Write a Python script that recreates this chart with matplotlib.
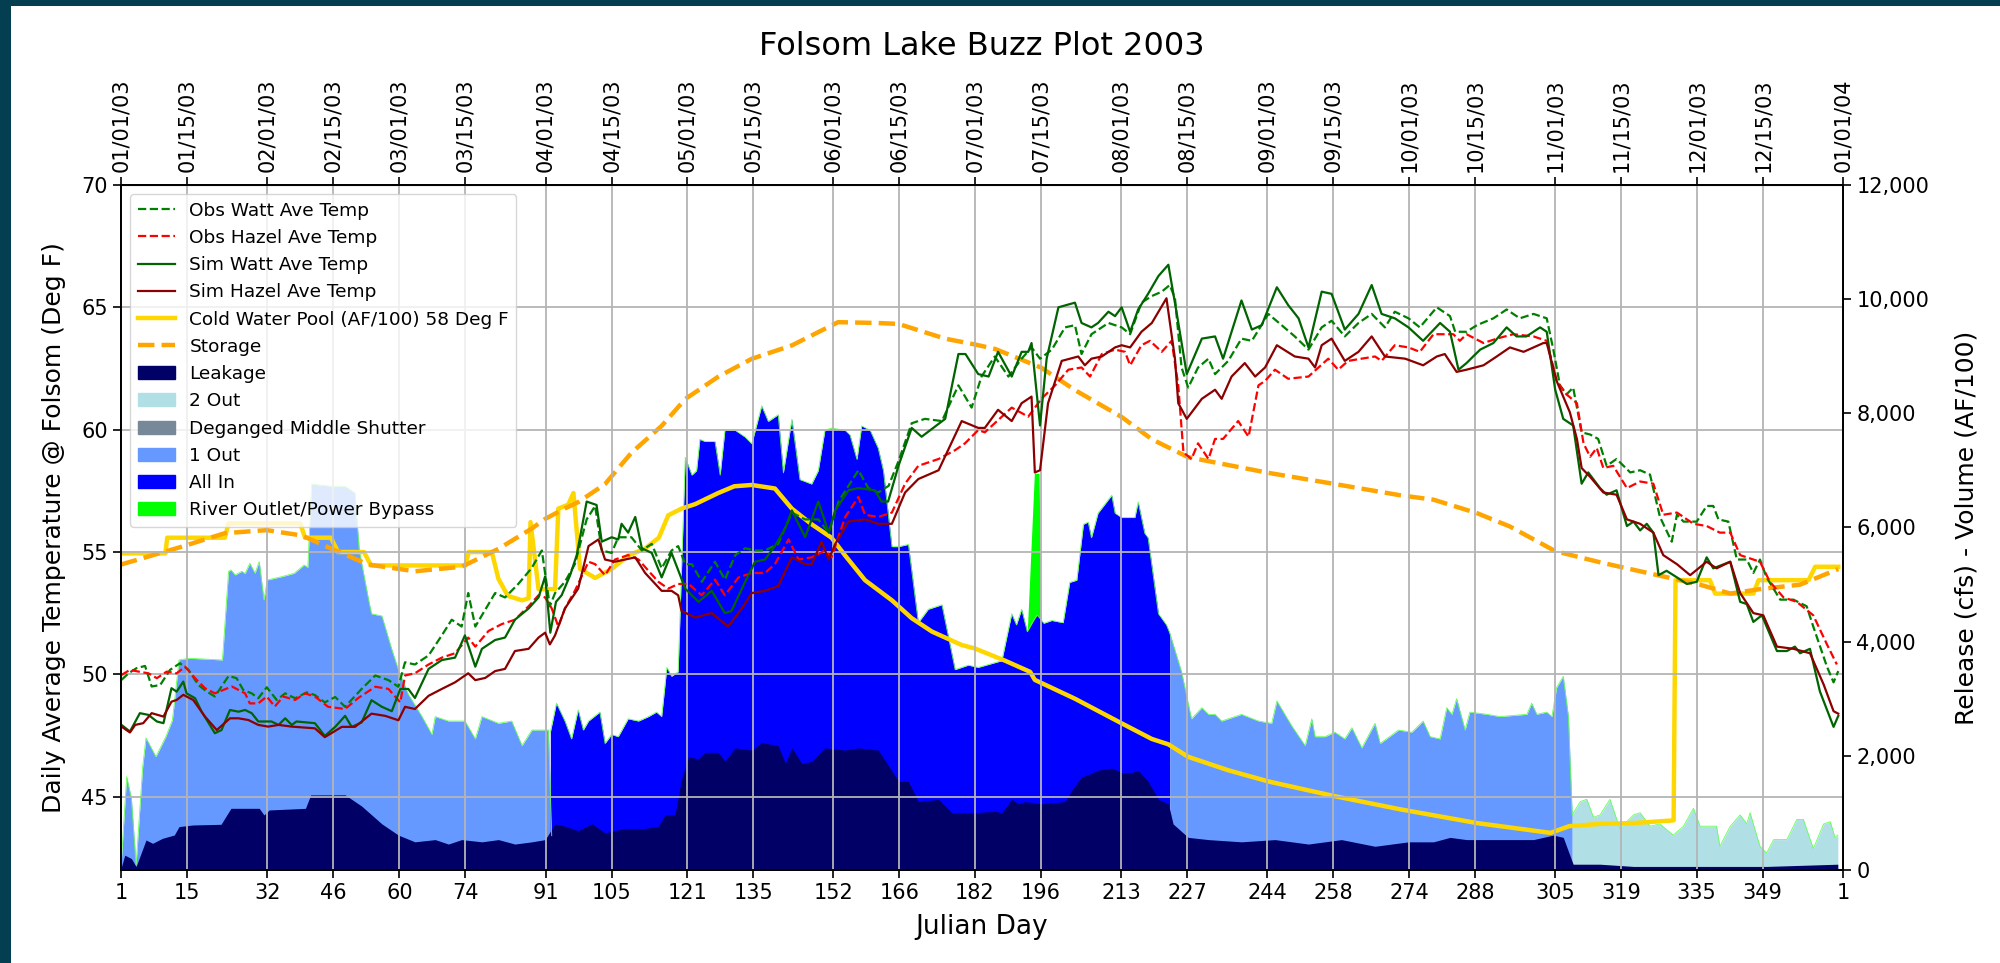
import matplotlib
matplotlib.use("Agg")
import matplotlib.pyplot as plt
from matplotlib.lines import Line2D
from matplotlib.patches import Patch, Rectangle
from matplotlib.ticker import FuncFormatter

# axis ticks (julian day) and the matching calendar dates on top
tick_days = [1, 15, 32, 46, 60, 74, 91, 105, 121, 135, 152, 166, 182, 196,
             213, 227, 244, 258, 274, 288, 305, 319, 335, 349, 366]
tick_labels = [str(d) for d in tick_days[:-1]] + ["1"]
date_labels = ["01/01/03", "01/15/03", "02/01/03", "02/15/03", "03/01/03",
               "03/15/03", "04/01/03", "04/15/03", "05/01/03", "05/15/03",
               "06/01/03", "06/15/03", "07/01/03", "07/15/03", "08/01/03",
               "08/15/03", "09/01/03", "09/15/03", "10/01/03", "10/15/03",
               "11/01/03", "11/15/03", "12/01/03", "12/15/03", "01/01/04"]

# temperatures (deg F), (julian day, value)
obs_watt = [
    (1.1, 49.77), (2.6, 50.04), (4.3, 50.25), (6.1, 50.34), (7.5, 49.5), (9.3, 49.56),
    (11.4, 50.18), (13.5, 50.45), (15.3, 50.18), (17.4, 49.56), (19.2, 49.29), (20.9, 49.09),
    (23.8, 49.93), (25.5, 49.84), (26.9, 49.36), (28.7, 49.22), (30.1, 49.02), (31.9, 49.47),
    (34.0, 48.95), (35.8, 49.22), (37.9, 49.02), (40.4, 49.26), (42.1, 49.15), (44.2, 48.85),
    (46.4, 49.07), (48.5, 48.67), (52.0, 49.4), (54.9, 49.95), (57.7, 49.76), (59.8, 49.49),
    (61.2, 50.49), (63.3, 50.4), (66.2, 50.77), (69.0, 51.59), (71.1, 52.23), (73.2, 51.95),
    (74.6, 53.32), (76.1, 51.95), (77.5, 52.41), (80.3, 53.32), (82.4, 53.14), (85.2, 53.69),
    (88.0, 54.33), (90.2, 55.06), (91.9, 52.78), (93.0, 53.32), (95.1, 53.78), (97.2, 54.5),
    (99.7, 56.33), (101.5, 56.88), (102.9, 55.06), (105.0, 54.96), (106.4, 55.6), (109.2, 55.6),
    (111.4, 55.06), (113.5, 55.33), (115.6, 54.33), (117.7, 55.06), (119.1, 55.24), (120.6, 54.5),
    (122.0, 54.5), (124.1, 53.78), (126.9, 54.6), (129.0, 53.87), (131.2, 54.87), (133.3, 55.15),
    (135.4, 55.06), (137.5, 55.06), (140.3, 55.33), (143.2, 56.61), (146.0, 56.33), (148.8, 56.33),
    (151.0, 55.79), (153.1, 57.06), (157.3, 58.34), (159.4, 57.61), (161.5, 57.43), (163.7, 57.7),
    (165.8, 58.71), (168.6, 60.26), (171.4, 60.44), (175.0, 60.35), (178.5, 61.81), (181.3, 60.9),
    (183.4, 62.17), (186.2, 62.99), (189.1, 62.17), (191.9, 62.9), (194.0, 63.36), (195.8, 62.9),
    (198.3, 63.27), (201.1, 64.18), (203.2, 64.27), (204.6, 63.09), (206.7, 63.9), (210.3, 64.36),
    (213.1, 64.18), (214.9, 63.9), (217.3, 65.19), (219.5, 65.46), (221.6, 65.64), (223.3, 65.91),
    (224.4, 65.37), (225.8, 62.54), (227.2, 61.72), (229.3, 62.54), (231.5, 62.9), (232.9, 62.27),
    (235.7, 62.81), (238.5, 63.72), (240.7, 63.63), (244.2, 64.73), (247.0, 64.27), (249.8, 63.81),
    (252.7, 63.27), (255.5, 64.18), (257.6, 64.45), (260.4, 63.81), (263.3, 64.36), (266.1, 64.73),
    (268.9, 64.18), (271.0, 64.82), (273.9, 64.55), (276.3, 64.18), (279.9, 65.0), (282.7, 64.64),
    (283.8, 64.0), (286.2, 64.0), (288.4, 64.27), (291.9, 64.55), (294.7, 64.91), (297.5, 64.55),
    (300.4, 64.73), (303.2, 64.55), (304.6, 63.27), (306.0, 61.81), (307.4, 61.44), (308.8, 61.72),
    (310.6, 59.89), (312.4, 59.8), (314.1, 59.62), (315.9, 58.52), (318.0, 58.8), (320.9, 58.25),
    (323.0, 58.34), (325.1, 58.16), (327.2, 56.43), (329.7, 55.42), (330.8, 56.52), (332.2, 56.24),
    (335.0, 56.24), (337.1, 56.88), (338.5, 56.88), (339.6, 56.33), (341.7, 56.24), (343.5, 54.69),
    (345.6, 54.69), (347.0, 54.14), (348.4, 54.69), (349.8, 53.96), (352.7, 53.05), (355.5, 53.05),
    (358.3, 52.78), (359.7, 51.95), (362.6, 50.31), (364.0, 49.67), (365.0, 50.13),
]

obs_hazel = [
    (1.1, 49.97), (2.9, 50.18), (4.7, 50.11), (6.8, 50.04), (8.6, 49.84), (10.7, 50.11),
    (12.8, 50.04), (14.6, 50.31), (16.7, 49.84), (18.8, 49.43), (20.9, 49.22), (24.5, 49.5),
    (27.3, 49.22), (28.3, 48.81), (30.1, 48.81), (31.9, 49.09), (33.6, 48.68), (35.4, 49.09),
    (37.9, 48.95), (40.0, 49.22), (42.1, 49.09), (44.9, 48.67), (48.5, 48.58), (51.3, 49.03),
    (54.9, 49.49), (57.7, 49.4), (60.2, 48.85), (61.2, 49.95), (63.3, 50.04), (66.2, 50.4),
    (69.0, 50.68), (71.8, 50.86), (74.6, 51.5), (76.1, 51.13), (78.9, 51.77), (81.7, 52.05),
    (84.5, 52.23), (87.4, 52.78), (89.5, 53.23), (90.9, 53.14), (92.3, 52.69), (93.7, 51.95),
    (95.1, 52.69), (97.2, 53.41), (100.1, 54.6), (101.5, 54.5), (103.6, 54.05), (105.7, 54.69),
    (108.5, 54.87), (110.7, 54.69), (112.8, 54.23), (114.9, 53.78), (117.0, 53.5), (119.1, 53.69),
    (121.3, 53.69), (124.1, 53.23), (126.9, 53.87), (129.0, 53.23), (131.9, 53.96), (134.7, 54.14),
    (137.5, 54.14), (139.6, 54.5), (142.5, 55.51), (144.6, 54.69), (147.4, 54.78), (150.2, 55.06),
    (151.6, 54.78), (154.5, 56.43), (157.3, 57.25), (158.7, 56.52), (161.5, 56.43), (164.4, 56.61),
    (167.2, 57.79), (170.0, 58.52), (174.3, 58.8), (177.8, 59.16), (179.9, 59.44), (182.7, 59.98),
    (184.1, 59.89), (189.8, 60.9), (193.3, 60.53), (196.1, 61.26), (199.0, 61.81), (201.8, 62.45),
    (204.6, 62.54), (206.4, 62.17), (208.9, 63.09), (211.7, 63.27), (213.8, 63.18), (214.9, 62.63),
    (217.3, 63.45), (219.1, 63.63), (221.6, 63.18), (223.7, 63.63), (225.1, 61.81), (226.2, 59.07),
    (227.9, 58.8), (229.3, 59.44), (231.5, 58.8), (232.9, 59.62), (234.6, 59.62), (237.8, 60.35),
    (240.0, 59.71), (242.1, 61.81), (243.5, 61.99), (245.6, 62.45), (248.4, 62.08), (252.7, 62.17),
    (256.9, 62.9), (259.0, 62.45), (261.1, 62.81), (264.0, 62.9), (266.8, 62.99), (268.2, 62.81),
    (271.0, 63.45), (273.9, 63.36), (276.3, 63.18), (279.2, 63.9), (283.4, 63.9), (284.8, 63.63),
    (286.2, 63.9), (289.8, 63.54), (292.6, 63.72), (296.1, 63.9), (300.4, 63.81), (303.2, 63.63),
    (305.3, 61.99), (307.4, 61.44), (309.6, 61.08), (311.0, 59.44), (312.4, 58.89), (313.8, 59.25),
    (315.2, 58.43), (317.3, 58.52), (320.2, 57.61), (323.0, 57.88), (325.8, 57.79), (327.9, 56.52),
    (330.8, 56.61), (334.3, 56.15), (337.1, 56.06), (339.9, 55.79), (342.1, 55.79), (344.2, 54.87),
    (347.0, 54.69), (348.4, 54.6), (350.5, 53.78), (353.4, 53.14), (356.2, 52.96), (359.7, 52.41),
    (362.6, 51.22), (364.7, 50.4),
]

sim_watt = [
    (1.1, 47.93), (2.9, 47.66), (5.0, 48.41), (6.8, 48.34), (8.6, 48.07), (10.0, 48.0),
    (11.7, 49.43), (12.8, 49.29), (14.2, 49.7), (14.9, 49.22), (16.7, 49.02), (18.1, 48.47),
    (20.9, 47.59), (22.3, 47.72), (24.1, 48.54), (25.9, 48.47), (27.3, 48.54), (28.7, 48.41),
    (30.1, 48.07), (31.9, 48.07), (32.9, 48.07), (34.4, 47.93), (35.8, 48.2), (37.2, 47.93),
    (38.2, 48.07), (42.1, 48.0), (44.2, 47.48), (46.4, 47.85), (48.5, 48.3), (49.9, 47.85),
    (52.0, 48.03), (54.1, 48.94), (56.3, 48.67), (58.4, 48.49), (60.2, 49.4), (61.9, 49.4),
    (63.3, 49.03), (66.2, 50.22), (69.0, 50.58), (71.8, 50.68), (73.9, 51.59), (76.1, 50.31),
    (77.5, 51.04), (80.3, 51.4), (82.4, 51.5), (84.5, 52.23), (87.4, 52.69), (89.5, 53.14),
    (90.9, 54.0), (92.0, 51.7), (93.2, 52.96), (94.4, 53.23), (96.2, 54.05), (97.6, 54.87),
    (99.7, 57.06), (101.8, 56.92), (102.9, 55.42), (105.0, 55.6), (106.4, 55.51), (107.1, 56.15),
    (108.5, 55.79), (110.0, 56.43), (111.4, 55.15), (113.5, 54.96), (115.6, 53.96), (117.7, 54.96),
    (120.6, 53.5), (123.4, 52.96), (126.2, 53.41), (129.0, 52.5), (130.4, 52.59), (133.3, 53.78),
    (135.4, 54.6), (137.5, 54.69), (139.6, 55.24), (141.8, 55.97), (143.2, 56.7), (146.0, 55.6),
    (148.8, 57.06), (151.0, 55.79), (152.4, 56.7), (155.2, 57.52), (157.3, 57.61), (160.8, 57.52),
    (162.2, 57.06), (163.6, 57.06), (165.8, 58.52), (168.6, 60.07), (170.7, 59.71), (175.7, 60.44),
    (178.5, 63.09), (180.0, 63.09), (182.7, 62.27), (184.9, 62.17), (186.9, 63.18), (189.8, 62.17),
    (191.9, 63.18), (193.3, 63.18), (194.0, 63.54), (195.8, 60.17), (197.2, 62.9), (199.7, 65.0),
    (203.2, 65.19), (204.6, 64.36), (206.7, 64.18), (208.1, 64.36), (210.3, 64.82), (211.7, 64.64),
    (213.1, 65.0), (214.9, 64.0), (216.6, 64.91), (218.7, 65.55), (220.9, 66.28), (223.0, 66.74),
    (224.8, 64.73), (226.9, 62.27), (230.1, 63.72), (232.9, 63.81), (234.6, 62.9), (238.5, 65.28),
    (240.7, 64.09), (242.8, 64.27), (246.0, 65.82), (248.4, 65.09), (250.6, 64.55), (252.7, 63.36),
    (255.5, 65.64), (257.6, 65.55), (260.4, 64.09), (263.3, 64.73), (266.1, 65.91), (268.2, 64.73),
    (271.0, 64.55), (273.9, 64.18), (277.0, 63.63), (280.6, 64.36), (282.7, 64.0), (284.5, 62.45),
    (286.2, 62.72), (287.6, 62.99), (289.1, 63.27), (291.9, 63.54), (294.7, 64.18), (296.8, 63.81),
    (298.9, 63.81), (301.8, 64.18), (303.2, 64.0), (305.0, 61.63), (306.7, 60.44), (308.8, 60.17),
    (310.6, 57.79), (312.0, 58.25), (314.5, 57.61), (315.9, 57.34), (318.0, 57.52), (320.2, 56.06),
    (321.6, 56.24), (323.0, 55.88), (324.4, 56.15), (325.8, 55.79), (326.9, 54.05), (328.6, 54.23),
    (330.8, 53.96), (332.9, 53.69), (335.0, 53.78), (337.1, 54.78), (338.5, 54.33), (342.1, 54.6),
    (344.2, 52.96), (345.6, 52.87), (347.0, 52.14), (348.8, 52.41), (352.0, 50.95), (354.1, 50.95),
    (355.8, 51.13), (356.9, 50.86), (359.0, 51.04), (361.1, 49.3), (364.0, 47.85), (365.0, 48.3),
]

sim_hazel = [
    (1.1, 47.86), (2.9, 47.62), (4.0, 47.93), (5.7, 48.0), (7.5, 48.41), (10.0, 48.27),
    (11.7, 48.88), (12.8, 48.95), (14.2, 49.16), (16.3, 48.95), (18.8, 48.27), (21.3, 47.72),
    (24.1, 48.2), (25.9, 48.2), (28.0, 48.13), (30.1, 47.93), (32.2, 47.86), (34.4, 47.93),
    (37.2, 47.86), (42.1, 47.79), (44.2, 47.43), (47.8, 47.85), (50.6, 47.85), (54.1, 48.39),
    (57.0, 48.3), (59.8, 48.12), (61.2, 48.67), (63.3, 48.58), (66.2, 49.12), (69.0, 49.4),
    (71.8, 49.67), (74.6, 50.04), (76.1, 49.76), (78.2, 49.85), (80.3, 50.13), (82.4, 50.22),
    (84.5, 50.95), (87.4, 51.04), (89.5, 51.5), (90.9, 51.7), (91.9, 51.22), (93.0, 51.59),
    (95.1, 52.69), (97.9, 53.5), (100.1, 55.24), (102.2, 55.51), (103.6, 54.69), (105.7, 54.6),
    (107.8, 54.69), (110.0, 54.78), (112.1, 54.14), (115.6, 53.41), (117.7, 53.41), (119.1, 53.23),
    (119.8, 52.59), (122.7, 52.32), (126.2, 52.5), (129.7, 51.95), (132.6, 52.69), (134.7, 53.32),
    (137.5, 53.41), (140.3, 53.6), (143.2, 54.78), (146.0, 54.5), (147.4, 54.5), (149.5, 55.42),
    (151.0, 54.69), (152.4, 55.33), (155.2, 56.24), (158.7, 56.33), (161.5, 56.15), (164.4, 56.15),
    (167.2, 57.43), (170.0, 57.98), (174.3, 58.34), (179.2, 60.35), (182.7, 60.07), (184.1, 60.07),
    (186.9, 60.81), (189.8, 60.35), (191.9, 61.08), (194.0, 61.35), (194.7, 58.25), (195.8, 58.34),
    (197.5, 61.08), (200.4, 62.81), (203.9, 62.99), (205.3, 62.63), (206.7, 62.9), (208.9, 62.99),
    (211.7, 63.36), (213.1, 63.45), (214.9, 63.36), (217.3, 64.0), (219.5, 64.36), (222.6, 65.37),
    (224.4, 62.9), (225.1, 61.08), (226.9, 60.44), (230.1, 61.26), (232.9, 61.63), (234.3, 61.26),
    (236.4, 62.17), (239.2, 62.72), (241.4, 62.17), (243.5, 62.54), (246.0, 63.45), (249.8, 62.99),
    (252.7, 62.9), (254.1, 62.54), (255.5, 63.45), (257.6, 63.72), (260.4, 62.81), (263.3, 63.18),
    (266.1, 63.81), (268.9, 62.99), (273.2, 62.9), (277.0, 62.63), (279.9, 62.99), (281.6, 63.09),
    (284.1, 62.36), (286.2, 62.45), (289.8, 62.63), (292.6, 62.99), (295.4, 63.36), (298.3, 63.18),
    (302.5, 63.54), (303.2, 63.54), (305.3, 61.99), (308.1, 60.71), (309.6, 59.62), (310.6, 58.43),
    (312.4, 58.07), (315.2, 57.43), (318.0, 57.34), (320.2, 56.33), (323.0, 56.15), (325.8, 55.79),
    (327.9, 54.87), (330.8, 54.5), (333.6, 54.05), (337.1, 54.6), (339.2, 54.33), (342.1, 54.6),
    (344.2, 53.32), (347.0, 52.5), (349.1, 52.41), (352.0, 51.13), (355.5, 51.04), (359.0, 50.86),
    (361.9, 49.58), (364.0, 48.49), (365.0, 48.39),
]

# volumes (AF/100)
cold_pool = [
    (1.0, 5547), (10.4, 5547), (10.8, 5821), (23.0, 5821), (23.8, 6072), (39.0, 6072),
    (40.0, 5821), (45.5, 5821), (47.0, 5570), (52.5, 5570), (54.0, 5335), (74.0, 5335),
    (74.7, 5570), (79.6, 5570), (81.0, 5100), (83.0, 4802), (86.0, 4724), (87.4, 4760),
    (87.8, 6095), (89.5, 4920), (93.0, 4920), (93.7, 6330), (95.8, 6400), (96.9, 6604),
    (98.3, 5273), (101.5, 5116), (105.0, 5273), (108.5, 5508), (112.0, 5625), (115.0, 5821),
    (117.0, 6213), (119.8, 6330), (122.7, 6409), (127.6, 6604), (131.0, 6722), (134.7, 6745),
    (139.6, 6683), (143.2, 6330), (147.4, 6056), (151.6, 5821), (154.5, 5508), (158.7, 5077),
    (164.4, 4724), (168.6, 4411), (172.9, 4176), (179.2, 3941), (182.0, 3880), (188.4, 3666),
    (193.7, 3471), (194.7, 3330), (203.2, 3000), (213.1, 2569), (219.5, 2295), (223.0, 2201),
    (227.2, 1982), (235.7, 1747), (244.2, 1551), (258.3, 1292), (272.0, 1065), (288.4, 822),
    (304.0, 650), (308.0, 768), (314.5, 807), (321.6, 822), (330.1, 869), (330.5, 5077),
    (337.8, 5077), (338.9, 4842), (347.0, 4842), (348.1, 5077), (358.7, 5077), (360.1, 5312),
    (365.0, 5312),
]

storage = [
    (1.0, 5351), (13.9, 5664), (23.0, 5900), (31.9, 5954), (39.3, 5860), (45.7, 5625),
    (53.4, 5351), (63.3, 5233), (73.2, 5312), (81.0, 5625), (88.0, 5978), (90.9, 6150),
    (95.0, 6330), (98.0, 6448), (103.6, 6761), (109.2, 7310), (115.6, 7780), (120.6, 8250),
    (127.6, 8642), (134.7, 8955), (143.2, 9190), (153.0, 9597), (161.5, 9582), (165.8, 9566),
    (175.7, 9308), (182.0, 9206), (186.3, 9127), (196.1, 8798), (203.2, 8407), (213.1, 7936),
    (219.5, 7545), (227.2, 7231), (244.2, 6957), (258.3, 6761), (272.1, 6565), (279.2, 6487),
    (288.4, 6252), (295.4, 6017), (305.0, 5586), (314.5, 5390), (327.2, 5155), (335.7, 4998),
    (342.1, 4842), (348.4, 4920), (356.9, 4998), (365.0, 5272),
]

# releases (cfs): total release per outlet configuration, and leakage
one_out_winter = [
    (1.0, 60), (2.2, 1635), (3.2, 1256), (4.2, 88), (5.6, 1810), (6.3, 2313), (8.4, 1985),
    (10.5, 2335), (11.9, 2627), (13.3, 3679), (15.4, 3709), (22.5, 3679), (23.8, 5233),
    (24.3, 5256), (25.2, 5168), (26.6, 5233), (27.3, 5194), (28.3, 5373), (29.4, 5200),
    (30.3, 5402), (31.3, 4730), (32.0, 5080), (35.1, 5139), (37.7, 5197), (39.8, 5343),
    (40.6, 5300), (41.4, 6761), (45.7, 6722), (48.5, 6722), (50.6, 6604), (51.5, 5600),
    (53.5, 4724), (54.1, 4489), (56.3, 4450), (58.4, 3862), (59.8, 3510), (61.9, 3079),
    (64.8, 2687), (66.9, 2374), (67.6, 2687), (70.4, 2609), (73.9, 2609), (76.1, 2296),
    (77.5, 2687), (81.0, 2569), (83.8, 2609), (86.0, 2178), (88.1, 2452), (91.6, 2452),
    (92.3, 600),
]

all_in = [
    (92.0, 2413), (93.3, 2922), (95.1, 2609), (96.5, 2296), (97.9, 2804), (99.0, 2452),
    (100.1, 2609), (102.5, 2766), (103.6, 2217), (105.0, 2374), (106.4, 2335), (108.5, 2648),
    (110.7, 2609), (112.8, 2687), (114.5, 2766), (115.6, 2687), (116.7, 3549), (117.7, 3393),
    (119.1, 3471), (120.6, 7231), (122.0, 6918), (123.0, 6996), (123.7, 7545), (124.8, 7506),
    (126.9, 7506), (128.0, 6918), (129.0, 7702), (131.2, 7702), (133.3, 7584), (134.7, 7466),
    (136.8, 8132), (138.2, 7858), (140.3, 7976), (141.4, 6957), (143.2, 7898), (144.9, 6840),
    (147.4, 6761), (148.8, 6996), (150.2, 7702), (151.6, 7741), (154.5, 7702), (155.5, 7623),
    (157.0, 7192), (158.0, 7780), (159.8, 7702), (161.5, 7388), (162.6, 6996), (164.4, 5664),
    (165.8, 5664), (167.9, 5703), (170.0, 4332), (172.1, 4567), (175.0, 4646), (177.8, 3510),
    (180.6, 3588), (182.7, 3549), (187.7, 3666), (189.8, 4489), (190.8, 4293), (191.9, 4567),
    (193.1, 4175), (194.5, 4380), (195.2, 4468), (196.6, 4322), (198.3, 4371), (200.7, 4332),
    (202.1, 5038), (203.6, 5077), (205.0, 6056), (206.0, 6095), (206.7, 5821), (208.1, 6252),
    (211.0, 6565), (211.7, 6252), (213.1, 6174), (215.9, 6174), (216.6, 6448), (218.0, 5899),
    (218.7, 5821), (220.9, 4489), (222.6, 4293), (223.3, 4150),
]

river_bypass = [(193.1, 4175), (194.6, 6950), (195.6, 6950), (196.0, 4400)]

one_out_fall = [
    (223.3, 4150), (225.8, 3471), (227.9, 2648), (230.1, 2844), (231.5, 2726), (232.9, 2726),
    (234.3, 2609), (238.5, 2726), (242.1, 2609), (244.9, 2569), (246.0, 2961), (249.1, 2531),
    (252.0, 2178), (253.4, 2648), (254.1, 2335), (256.2, 2335), (258.3, 2413), (260.4, 2296),
    (261.9, 2491), (264.0, 2139), (266.8, 2569), (267.9, 2217), (271.8, 2452), (274.6, 2413),
    (277.0, 2609), (278.5, 2335), (280.6, 2296), (282.0, 2844), (283.1, 2726), (284.1, 3001),
    (285.9, 2452), (286.9, 2766), (290.5, 2727), (293.3, 2687), (299.0, 2727), (300.0, 2922),
    (301.1, 2727), (303.2, 2766), (304.3, 2687), (305.3, 3196), (306.7, 3393), (307.8, 2687),
    (308.6, 964),
]

two_out = [
    (308.6, 964), (310.3, 1198), (311.7, 1238), (313.1, 924), (314.5, 964), (316.6, 1238),
    (318.7, 728), (321.6, 964), (323.0, 1003), (325.1, 767), (327.2, 807), (330.0, 611),
    (332.2, 767), (334.3, 1081), (335.7, 767), (339.2, 767), (339.9, 415), (342.1, 767),
    (344.2, 964), (345.6, 807), (346.3, 1003), (348.4, 415), (349.8, 297), (351.3, 532),
    (354.1, 532), (356.2, 885), (357.6, 885), (359.7, 376), (361.9, 807), (363.3, 846),
    (364.3, 571), (364.9, 611),
]

leakage = [
    (1.0, 30), (1.8, 260), (3.2, 200), (4.2, 60), (6.3, 525), (7.7, 467), (9.8, 555),
    (12.3, 613), (13.3, 760), (16.2, 788), (22.2, 800), (24.3, 1080), (30.3, 1080),
    (31.3, 964), (32.4, 1051), (40.1, 1080), (41.2, 1314), (48.5, 1316), (52.0, 1120),
    (56.3, 807), (59.8, 611), (63.3, 493), (67.6, 532), (70.4, 454), (73.2, 532), (77.5, 493),
    (81.0, 532), (84.5, 454), (88.1, 493), (90.9, 532), (93.0, 807), (95.1, 767), (97.9, 689),
    (100.8, 807), (103.6, 650), (107.8, 728), (112.1, 728), (114.9, 767), (116.3, 963),
    (118.4, 963), (119.8, 1590), (121.3, 1982), (123.4, 1943), (124.8, 2060), (127.6, 2060),
    (129.0, 1903), (131.2, 2139), (134.7, 2100), (136.8, 2233), (140.3, 2178), (141.8, 1865),
    (143.2, 2139), (145.3, 1865), (147.4, 1903), (150.2, 2139), (154.5, 2100), (157.3, 2139),
    (161.5, 2100), (163.7, 1825), (165.8, 1551), (167.9, 1551), (170.0, 1198), (174.3, 1238),
    (177.1, 1003), (181.3, 1003), (186.3, 1026), (187.7, 1003), (189.8, 1238), (191.2, 1159),
    (192.6, 1198), (196.1, 1159), (201.1, 1198), (202.5, 1394), (204.6, 1629), (206.0, 1668),
    (208.1, 1747), (211.0, 1786), (213.1, 1708), (215.2, 1708), (216.6, 1747), (218.7, 1551),
    (220.9, 1238), (223.0, 1159), (224.0, 807), (227.2, 571), (231.5, 532), (238.5, 493),
    (245.6, 532), (252.7, 454), (259.7, 532), (266.8, 415), (273.9, 493), (279.2, 493),
    (282.7, 571), (286.2, 532), (293.3, 532), (300.4, 532), (304.6, 611), (306.7, 571),
    (308.8, 101), (314.5, 101), (321.6, 62), (335.7, 62), (349.8, 62), (364.9, 101),
]

COL_LEAK = "#000066"
COL_2OUT = "powderblue"
COL_DEGANG = "lightslategray"
COL_1OUT = "#6699ff"
COL_ALLIN = "blue"
COL_RIVER = "lime"


def xy(pairs):
    return [p[0] for p in pairs], [p[1] for p in pairs]


fig = plt.figure(figsize=(20, 9.63), dpi=100)
ax1 = fig.add_axes([0.0605, 0.0966, 0.861, 0.7113])
ax2 = ax1.twinx()
ax1.set_zorder(ax2.get_zorder() + 1)
ax1.patch.set_visible(False)

# release areas on the right axis
x, y = xy(river_bypass)
ax2.fill_between(x, 0, y, color=COL_RIVER, lw=0)
for series, col in [(one_out_winter, COL_1OUT), (all_in, COL_ALLIN),
                    (one_out_fall, COL_1OUT), (two_out, COL_2OUT)]:
    x, y = xy(series)
    ax2.fill_between(x, 0, y, color=col, lw=0)
    ax2.plot(x, y, color="#66ff55", lw=0.6)
x, y = xy(leakage)
ax2.fill_between(x, 0, y, color=COL_LEAK, lw=0)

x, y = xy(cold_pool)
ax2.plot(x, y, color="gold", lw=3.2)
x, y = xy(storage)
ax2.plot(x, y, color="orange", lw=3.2, ls="--")

# temperatures on the left axis
x, y = xy(obs_watt)
ax1.plot(x, y, color="green", lw=1.6, ls="--")
x, y = xy(obs_hazel)
ax1.plot(x, y, color="red", lw=1.6, ls="--")
x, y = xy(sim_watt)
ax1.plot(x, y, color="darkgreen", lw=1.6)
x, y = xy(sim_hazel)
ax1.plot(x, y, color="darkred", lw=1.6)

ax1.set_xlim(1, 366)
ax1.set_ylim(42, 70)
ax2.set_ylim(0, 12000)
ax1.set_xticks(tick_days, labels=tick_labels)
ax1.set_yticks([45, 50, 55, 60, 65, 70])
ax2.set_yticks(range(0, 12001, 2000))
ax2.yaxis.set_major_formatter(FuncFormatter(lambda v, p: f"{v:,.0f}"))
ax1.tick_params(labelsize=15, length=6, width=1.2)
ax2.tick_params(labelsize=15, length=6, width=1.2)
ax1.grid(True, color="#b4b4b4", lw=1.3)
for sp in list(ax1.spines.values()) + list(ax2.spines.values()):
    sp.set_linewidth(1.4)

top = ax1.secondary_xaxis("top")
top.set_xticks(tick_days, labels=date_labels, rotation=90, fontsize=15)
top.tick_params(length=6, width=1.2)

ax1.set_xlabel("Julian Day", fontsize=19, labelpad=8)
ax1.set_ylabel("Daily Average Temperature @ Folsom (Deg F)", fontsize=18, labelpad=11)
ax2.set_ylabel("Release (cfs) - Volume (AF/100)", fontsize=18, labelpad=18)
fig.text(0.491, 1 - 55 / 963, "Folsom Lake Buzz Plot 2003", fontsize=23,
         ha="center", va="baseline")

handles = [
    Line2D([], [], color="green", lw=1.6, ls="--", label="Obs Watt Ave Temp"),
    Line2D([], [], color="red", lw=1.6, ls="--", label="Obs Hazel Ave Temp"),
    Line2D([], [], color="darkgreen", lw=1.6, label="Sim Watt Ave Temp"),
    Line2D([], [], color="darkred", lw=1.6, label="Sim Hazel Ave Temp"),
    Line2D([], [], color="gold", lw=3.2, label="Cold Water Pool (AF/100) 58 Deg F"),
    Line2D([], [], color="orange", lw=3.2, ls="--", label="Storage"),
    Patch(color=COL_LEAK, label="Leakage"),
    Patch(color=COL_2OUT, label="2 Out"),
    Patch(color=COL_DEGANG, label="Deganged Middle Shutter"),
    Patch(color=COL_1OUT, label="1 Out"),
    Patch(color=COL_ALLIN, label="All In"),
    Patch(color=COL_RIVER, label="River Outlet/Power Bypass"),
]
ax1.legend(handles=handles, loc="upper left", fontsize=13.3)

# dark frame strips on the left and top edge
fig.add_artist(Rectangle((0, 0), 10.5 / 2000, 1, transform=fig.transFigure,
                         color="#033f50", lw=0))
fig.add_artist(Rectangle((0, 1 - 6 / 963), 1, 6 / 963, transform=fig.transFigure,
                         color="#033f50", lw=0))

fig.savefig("out.png", dpi=100, facecolor="white")
